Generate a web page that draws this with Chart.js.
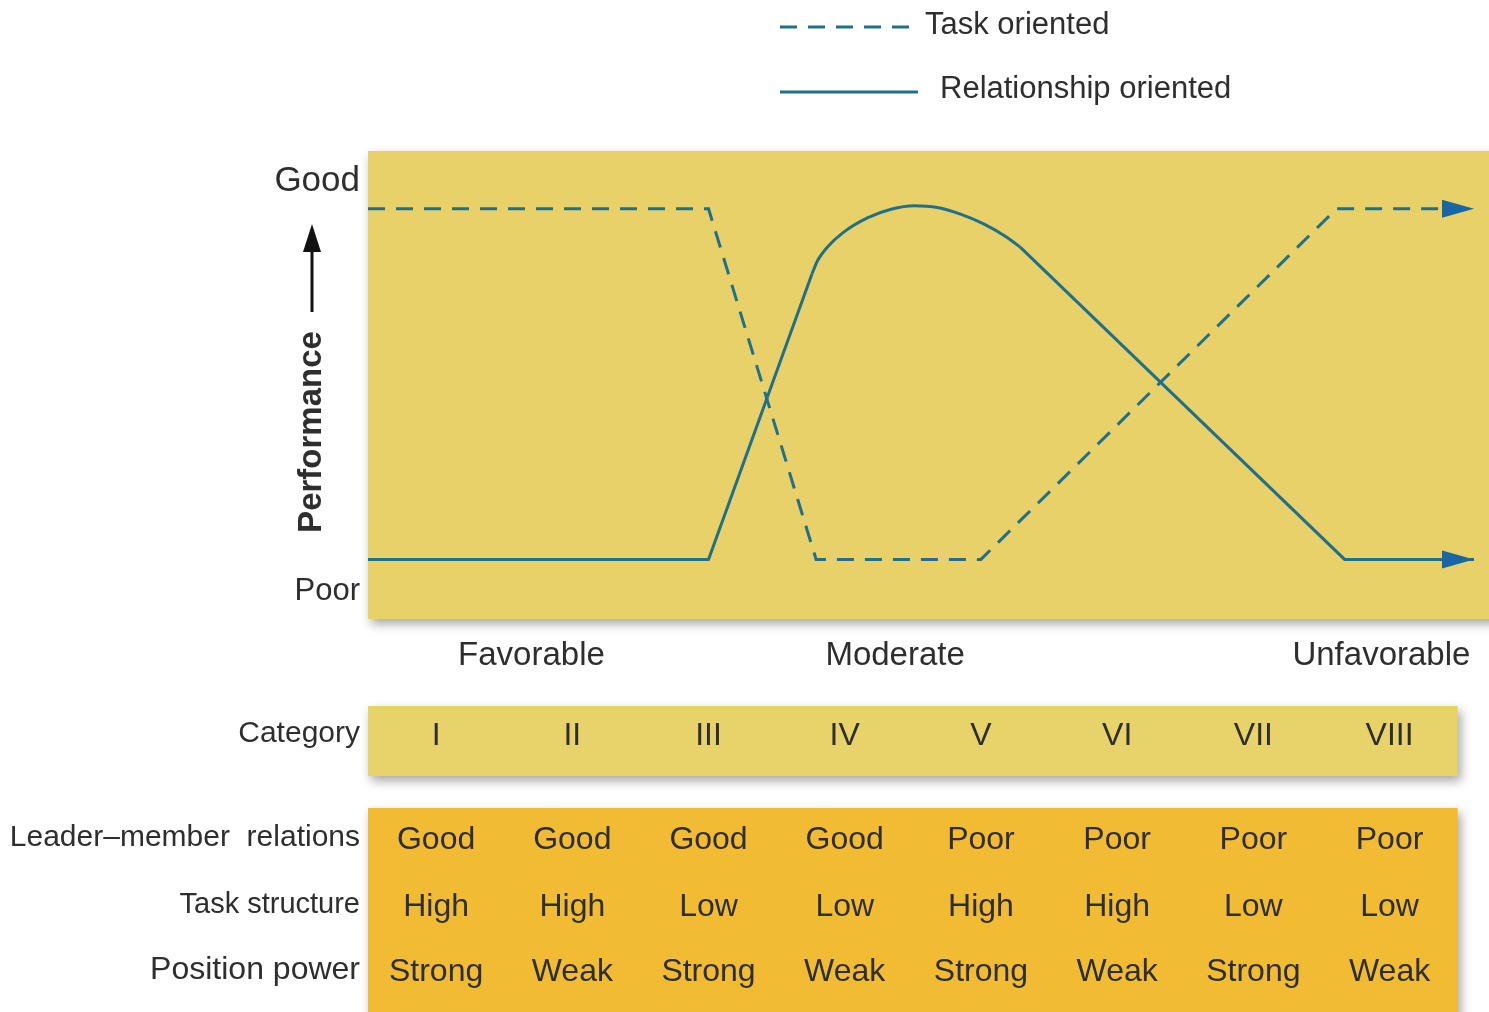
<!DOCTYPE html>
<html>
<head>
<meta charset="utf-8">
<title>Fiedler contingency model</title>
<script src="https://cdn.jsdelivr.net/npm/chart.js@4/dist/chart.umd.min.js"></script>
<style>
  html, body { margin: 0; padding: 0; background: #fff; }
  canvas { display: block; }
</style>
</head>
<body>
<canvas id="fiedlerChart" width="1489" height="1012"></canvas>
<script>
// situation categories and the three situational factors
const categories = ["I", "II", "III", "IV", "V", "VI", "VII", "VIII"];
const leaderMember = ["Good", "Good", "Good", "Good", "Poor", "Poor", "Poor", "Poor"];
const taskStructure = ["High", "High", "Low", "Low", "High", "High", "Low", "Low"];
const positionPower = ["Strong", "Weak", "Strong", "Weak", "Strong", "Weak", "Strong", "Weak"];
const rowLabels = ["Leader\u2013member  relations", "Task structure", "Position power"];
const situationLabels = ["Favorable", "Moderate", "Unfavorable"];
const situationAt = [1.7, 4.37, 7.94];
const performanceTicks = ["Poor", "Good"];

// performance curves (x = category position, y = 0 poor .. 1 good)
const taskX = [0.5, 3.0, 3.79, 5.0, 7.61, 8.62];
const taskY = [1, 1, 0, 0, 1, 1];
// relationship oriented: straight parts and the rounded top drawn as its own piece
const relX = [0.5, 3.0, 3.76, 5.29, 7.67, 8.62];
const relY = [0, 0, 0.815, 0.89, 0, 0];
const relTopX = [3.76, 3.80, 3.87, 3.99, 4.17, 4.34, 4.51, 4.68, 4.85, 5.02, 5.19, 5.29];
const relTopY = [0.815, 0.852, 0.89, 0.933, 0.975, 0.999, 1.009, 1.004, 0.985, 0.957, 0.919, 0.89];

const FONT = '"Liberation Sans", Arial, sans-serif';
const TEXT = "#2e2e2e";
const LINE = "#20708c";
const ARROW = "#1766a6";

function toPoints(xs, ys) {
    return xs.map((x, i) => ({ x: x, y: ys[i] }));
}

function shadowBox(ctx, x, y, w, h, color) {
    ctx.save();
    ctx.shadowColor = "rgba(0,0,0,0.35)";
    ctx.shadowBlur = 10;
    ctx.shadowOffsetX = 3;
    ctx.shadowOffsetY = 5;
    ctx.fillStyle = color;
    ctx.fillRect(x, y, w, h);
    ctx.restore();
}

function text(ctx, str, x, y, align, size, weight) {
    ctx.font = (weight || "normal") + " " + size + "px " + FONT;
    ctx.textAlign = align;
    ctx.textBaseline = "middle";
    ctx.fillStyle = TEXT;
    ctx.fillText(str, x, y);
}

const fiedlerPlugin = {
    id: "fiedler",
    beforeDatasetsDraw(chart) {
        const a = chart.chartArea;
        shadowBox(chart.ctx, a.left, a.top, a.right - a.left + 20, a.bottom - a.top, "#e8d168");
    },
    afterDatasetsDraw(chart) {
        const ctx = chart.ctx;
        chart.data.datasets.forEach((ds, i) => {
            if (ds.part) return;
            const pts = chart.getDatasetMeta(i).data;
            const tip = pts[pts.length - 1], prev = pts[pts.length - 2];
            const ang = Math.atan2(tip.y - prev.y, tip.x - prev.x);
            ctx.save();
            ctx.translate(tip.x, tip.y);
            ctx.rotate(ang);
            ctx.fillStyle = ARROW;
            ctx.beginPath();
            ctx.moveTo(0, 0);
            ctx.lineTo(-32, -9);
            ctx.lineTo(-32, 9);
            ctx.closePath();
            ctx.fill();
            ctx.restore();
        });
    },
    afterDraw(chart) {
        const ctx = chart.ctx;
        const xs = chart.scales.x, ys = chart.scales.y;
        const left = xs.getPixelForValue(0.5), right = xs.getPixelForValue(8.5);

        // legend
        const legendRows = [{ y: 27, end: 910, textX: 925, textY: 25 }, { y: 92, end: 918, textX: 940, textY: 89 }];
        chart.data.datasets.filter(ds => !ds.part).forEach((ds, i) => {
            const r = legendRows[i];
            ctx.save();
            ctx.strokeStyle = ds.borderColor;
            ctx.lineWidth = ds.borderWidth;
            ctx.setLineDash(ds.borderDash || []);
            ctx.beginPath();
            ctx.moveTo(780, r.y);
            ctx.lineTo(r.end, r.y);
            ctx.stroke();
            ctx.restore();
            text(ctx, ds.label, r.textX, r.textY, "left", 31);
        });

        // performance axis
        text(ctx, performanceTicks[1], 360, ys.getPixelForValue(1) - 27, "right", 35);
        text(ctx, performanceTicks[0], 360, ys.getPixelForValue(0) + 32, "right", 31);
        ctx.save();
        ctx.translate(312, 432);
        ctx.rotate(-Math.PI / 2);
        text(ctx, "Performance", 0, 0, "center", 33, "bold");
        ctx.restore();
        ctx.save();
        ctx.strokeStyle = "#111";
        ctx.fillStyle = "#111";
        ctx.lineWidth = 3;
        ctx.beginPath();
        ctx.moveTo(312, 312);
        ctx.lineTo(312, 245);
        ctx.stroke();
        ctx.beginPath();
        ctx.moveTo(312, 224);
        ctx.lineTo(303, 252);
        ctx.lineTo(321, 252);
        ctx.closePath();
        ctx.fill();
        ctx.restore();

        // favorableness labels
        situationLabels.forEach((s, i) => {
            text(ctx, s, xs.getPixelForValue(situationAt[i]), 656, "center", 33);
        });

        // category row
        shadowBox(ctx, left, 706, right - left, 70, "#e8d36b");
        text(ctx, "Category", 360, 734, "right", 30);
        categories.forEach((c, i) => {
            text(ctx, c, xs.getPixelForValue(i + 1), 736, "center", 32);
        });

        // situational factors table
        shadowBox(ctx, left, 808, right - left, 220, "#f1bb34");
        const rows = [leaderMember, taskStructure, positionPower];
        const rowY = [838, 905, 970];
        const rowSize = [30, 29, 32];
        rows.forEach((vals, r) => {
            text(ctx, rowLabels[r], 360, rowY[r], "right", rowSize[r]);
            vals.forEach((v, i) => {
                text(ctx, v, xs.getPixelForValue(i + 1), rowY[r] + 2, "center", 32);
            });
        });
    }
};

const ctx = document.getElementById("fiedlerChart").getContext("2d");
new Chart(ctx, {
    type: "line",
    data: {
        datasets: [{
            label: "Task oriented",
            data: toPoints(taskX, taskY),
            borderColor: LINE,
            borderWidth: 3,
            borderDash: [17, 11],
            pointRadius: 0,
            tension: 0
        }, {
            label: "Relationship oriented",
            data: toPoints(relX, relY),
            borderColor: LINE,
            borderWidth: 3,
            pointRadius: 0,
            tension: 0,
            // segment across the rounded top is hidden, the smooth piece below draws it
            segment: { borderColor: c => c.p0DataIndex === 2 ? "rgba(0,0,0,0)" : undefined }
        }, {
            label: "Relationship oriented",
            part: true,
            data: toPoints(relTopX, relTopY),
            borderColor: LINE,
            borderWidth: 3,
            pointRadius: 0,
            cubicInterpolationMode: "monotone"
        }]
    },
    options: {
        responsive: false,
        animation: false,
        devicePixelRatio: 1,
        layout: { padding: { left: 368, right: 0, top: 151, bottom: 393 } },
        scales: {
            x: { type: "linear", min: 0.5, max: 8.73, display: false },
            y: { type: "linear", min: -0.17, max: 1.165, display: false }
        },
        plugins: {
            legend: { display: false },
            tooltip: { enabled: false }
        }
    },
    plugins: [fiedlerPlugin]
});
</script>
</body>
</html>
